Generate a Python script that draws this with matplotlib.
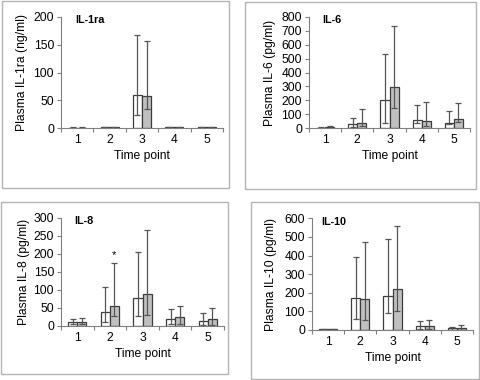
import numpy as np
import matplotlib.pyplot as plt
from matplotlib.patches import Rectangle

plt.rcParams['font.family'] = ['Liberation Sans', 'DejaVu Sans']

# Time points on x axis
time_points = ['1', '2', '3', '4', '5']

# IL-1ra (ng/ml)
il1ra_white = [1, 2, 59, 2, 2]
il1ra_white_lo = [1, 1, 24, 1, 1]
il1ra_white_hi = [2, 3, 168, 3, 3]
il1ra_gray = [1, 2, 57, 2, 2]
il1ra_gray_lo = [1, 1, 34, 1, 1]
il1ra_gray_hi = [2, 3, 157, 3, 3]

# IL-6 (pg/ml)
il6_white = [5, 31, 200, 62, 41]
il6_white_lo = [2, 7, 38, 40, 30]
il6_white_hi = [10, 74, 535, 170, 125]
il6_gray = [8, 38, 293, 53, 67]
il6_gray_lo = [3, 18, 144, 14, 45]
il6_gray_hi = [15, 139, 734, 190, 182]

# IL-8 (pg/ml)
il8_white = [10, 38, 79, 19, 14]
il8_white_lo = [5, 11, 28, 6, 3]
il8_white_hi = [20, 109, 205, 48, 35]
il8_gray = [10, 55, 90, 24, 20]
il8_gray_lo = [5, 27, 30, 5, 3]
il8_gray_hi = [23, 174, 266, 55, 51]
il8_star = 197

# IL-10 (pg/ml)
il10_white = [3, 174, 181, 21, 9]
il10_white_lo = [1, 57, 90, 5, 2]
il10_white_hi = [5, 394, 487, 47, 18]
il10_gray = [3, 167, 219, 21, 12]
il10_gray_lo = [1, 54, 104, 5, 2]
il10_gray_hi = [5, 473, 559, 52, 27]

W, H = 481, 380
fig = plt.figure(figsize=(W / 100, H / 100), dpi=100)

# panel boxes (pixels: x0, y0, x1, y1 from top-left)
boxes = [(2, 0.5, 229, 188), (245, 2, 476, 189),
         (0.5, 202, 228, 374), (251, 202, 479, 379)]
for x0, y0, x1, y1 in boxes:
    fig.add_artist(Rectangle((x0 / W, 1 - y1 / H), (x1 - x0) / W, (y1 - y0) / H,
                             transform=fig.transFigure, fill=False,
                             edgecolor='#b4b4b4', linewidth=1))

# axes rectangles in pixels (left, right, top, bottom, ylabel offset)
axes_px = [(61, 223, 16.7, 128.3, 33), (309, 470, 16.7, 128.3, 33),
           (61, 224, 218, 326, 31), (312, 473, 218.3, 330, 35)]

panels = [
    ('IL-1ra', 'Plasma IL-1ra (ng/ml)', 200, 50,
     il1ra_white, il1ra_white_lo, il1ra_white_hi, il1ra_gray, il1ra_gray_lo, il1ra_gray_hi, 0.09),
    ('IL-6', 'Plasma IL-6 (pg/ml)', 800, 100,
     il6_white, il6_white_lo, il6_white_hi, il6_gray, il6_gray_lo, il6_gray_hi, 0.08),
    ('IL-8', 'Plasma IL-8 (pg/ml)', 300, 50,
     il8_white, il8_white_lo, il8_white_hi, il8_gray, il8_gray_lo, il8_gray_hi, 0.08),
    ('IL-10', 'Plasma IL-10 (pg/ml)', 600, 100,
     il10_white, il10_white_lo, il10_white_hi, il10_gray, il10_gray_lo, il10_gray_hi, 0.06),
]

fs = 8.7
x = np.arange(len(time_points))
bw = 0.28
for (l, r, t, b, yoff), (name, ylab, ymax, ystep, wv, wlo, whi, gv, glo, ghi, tx) in zip(axes_px, panels):
    ax = fig.add_axes([l / W, 1 - b / H, (r - l) / W, (b - t) / H])
    wv, gv = np.array(wv), np.array(gv)
    werr = [wv - np.array(wlo), np.array(whi) - wv]
    gerr = [gv - np.array(glo), np.array(ghi) - gv]
    ax.bar(x - bw / 2, wv, bw, color='white', edgecolor='#3c3c3c', linewidth=0.9,
           yerr=werr, error_kw=dict(ecolor='#555555', elinewidth=0.9, capsize=2.2, capthick=0.9))
    ax.bar(x + bw / 2, gv, bw, color='#c0c0c0', edgecolor='#3c3c3c', linewidth=0.9,
           yerr=gerr, error_kw=dict(ecolor='#555555', elinewidth=0.9, capsize=2.2, capthick=0.9))
    if name == 'IL-8':
        ax.text(x[1] + bw / 2, il8_star, '*', ha='center', va='center', fontsize=8)

    ax.set_xlim(-0.5, len(time_points) - 0.5)
    ax.set_ylim(0, ymax)
    ax.set_yticks(np.arange(0, ymax + 1, ystep))
    # Excel style: ticks between categories, labels at centers
    ax.set_xticks(np.arange(-0.5, len(time_points)))
    ax.set_xticklabels([])
    ax.set_xticks(x, minor=True)
    ax.set_xticklabels(time_points, minor=True)
    ax.tick_params(axis='x', which='minor', length=0, pad=4, labelsize=fs)
    ax.tick_params(axis='x', which='major', length=3, color='#808080', direction='out')
    ax.tick_params(axis='y', length=3, color='#808080', pad=2, labelsize=fs)
    for s in ['top', 'right']:
        ax.spines[s].set_visible(False)
    for s in ['left', 'bottom']:
        ax.spines[s].set_color('#808080')
        ax.spines[s].set_linewidth(0.8)
    ax.set_ylabel(ylab, fontsize=fs)
    ax.set_xlabel('Time point', fontsize=fs)
    ax.yaxis.set_label_coords(-yoff / (r - l), 0.5)
    ax.xaxis.set_label_coords(0.5, -22 / (b - t))
    ax.text(tx, 1 - 3.5 / (b - t), name, transform=ax.transAxes, fontsize=7.8,
            fontweight='bold', va='center', ha='left')

fig.savefig('out.png', dpi=100)
